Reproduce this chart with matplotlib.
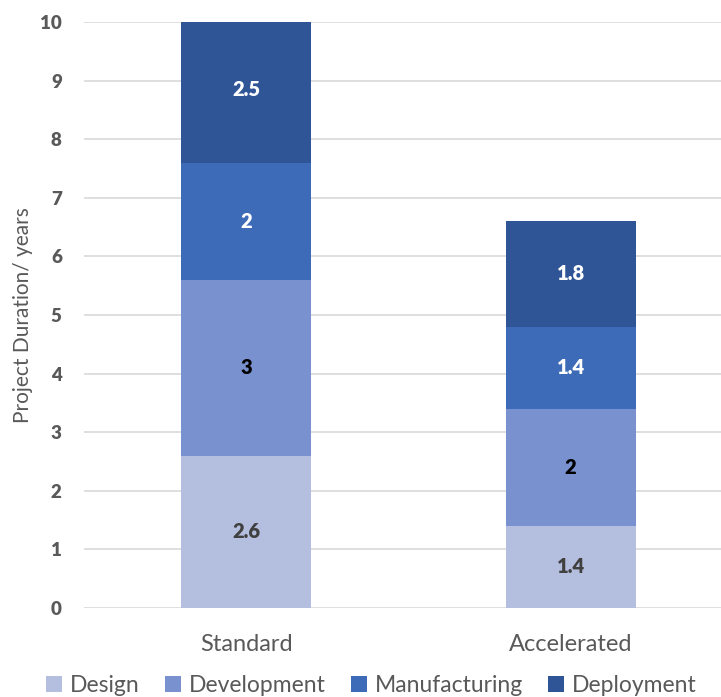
import matplotlib.pyplot as plt
import numpy as np

plt.rcParams['font.family'] = ['Lato', 'DejaVu Sans']

categories = ['Standard', 'Accelerated']
phases = ['Design', 'Development', 'Manufacturing', 'Deployment']
durations = {
    'Design': [2.6, 1.4],
    'Development': [3, 2],
    'Manufacturing': [2, 1.4],
    'Deployment': [2.5, 1.8],
}
colors = ['#b4bfe0', '#7a91cf', '#3e6bb8', '#2f5597']
label_colors = ['#404040', '#000000', '#ffffff', '#ffffff']

fig = plt.figure(figsize=(7.21, 6.97), dpi=100)
ax = fig.add_axes([0.1165, 0.1277, 0.9, 0.8407])

x = np.arange(len(categories))
bottom = np.zeros(len(categories))
for phase, col, lc in zip(phases, colors, label_colors):
    vals = np.array(durations[phase], dtype=float)
    ax.bar(x, vals, 0.4, bottom=bottom, color=col, label=phase, zorder=3)
    for xi, v, b in zip(x, vals, bottom):
        ax.text(xi, b + v / 2, f'{v:g}', ha='center', va='center',
                color=lc, fontsize=14.5, fontweight='heavy', zorder=4)
    bottom += vals

ax.set_xlim(-0.5, 1.5)
ax.set_ylim(0, 10)
ax.set_yticks(range(0, 11))
ax.grid(axis='y', color='#d9d9d9', linewidth=1.2, zorder=0)
for s in ax.spines.values():
    s.set_visible(False)
ax.tick_params(axis='y', length=0, pad=16, labelsize=13.5, labelcolor='#595959')
for t in ax.get_yticklabels():
    t.set_fontweight('heavy')
ax.set_xticks(x)
ax.set_xticklabels(categories)
ax.tick_params(axis='x', length=0, pad=19, labelsize=17, labelcolor='#595959')
ax.set_ylabel('Project Duration/ years', fontsize=15, color='#595959', labelpad=5)

leg = fig.legend(loc='lower center', bbox_to_anchor=(0.515, -0.028), ncol=4,
                 frameon=False, fontsize=16.5, handlelength=0.7, handleheight=0.7,
                 handletextpad=0.35, columnspacing=1.1, labelcolor='#595959')

fig.savefig('out.png', dpi=100)
